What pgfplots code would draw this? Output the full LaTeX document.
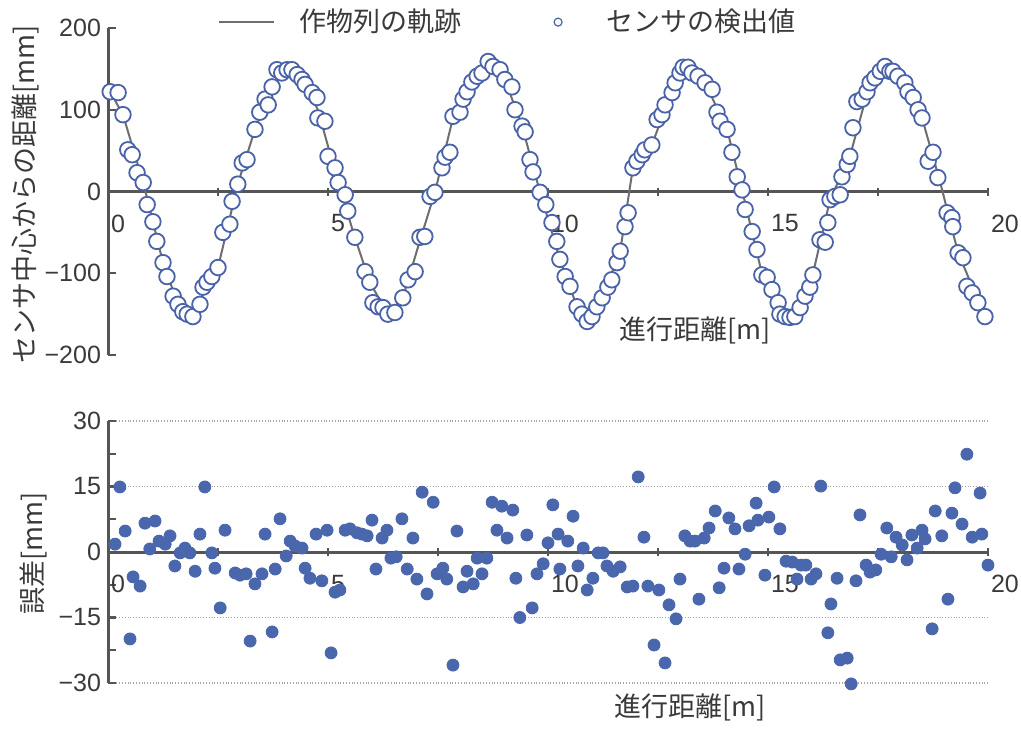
\documentclass[border=0pt]{standalone}
\usepackage{pgfplots}
\pgfplotsset{compat=1.18}
\usepackage{pgfplotstable}
\usepackage{fontspec}
\setmainfont{Liberation Sans}
\newfontfamily\jp{Noto Sans CJK JP}
\definecolor{axgray}{HTML}{555555}
\definecolor{trajgray}{HTML}{6E6E6E}
\definecolor{mblue}{HTML}{4A62A8}
\definecolor{dblue}{HTML}{4A66AC}
\definecolor{txt}{HTML}{3A3A3A}

\pgfplotstableread{
x y
0.05 122
0.34 94
0.80 11
1.25 -87
1.59 -138
1.93 -153
2.16 -125
2.50 -93
2.95 9
3.34 76
3.73 128
4.07 150
4.48 131
4.77 100
5.23 11
5.61 -56
5.95 -111
6.36 -150
6.70 -130
7.09 -60
7.43 -1
7.84 90
8.27 134
8.64 155
9.02 137
9.41 80
9.82 -1
10.27 -83
10.66 -141
10.89 -157
11.23 -130
11.64 -73
11.93 29
12.36 57
12.89 133
13.11 152
13.57 133
14.07 76
14.41 2
14.86 -100
15.27 -148
15.50 -154
15.95 -117
16.41 -10
16.86 43
17.32 133
17.66 152
18.11 133
18.50 90
18.91 12
19.32 -75
19.93 -153
}\trajtab

\pgfplotstableread{
x y
0.05 122
0.23 121
0.34 94
0.45 51
0.55 45
0.66 23
0.80 11
0.89 -16
1.02 -37
1.11 -61
1.25 -87
1.34 -104
1.48 -128
1.59 -138
1.70 -147
1.80 -150
1.93 -153
2.09 -138
2.16 -117
2.25 -111
2.36 -104
2.50 -93
2.61 -50
2.77 -40
2.82 -12
2.95 9
3.05 35
3.16 39
3.34 76
3.45 97
3.57 113
3.64 106
3.73 128
3.84 149
3.95 145
4.07 149
4.18 149
4.30 143
4.41 137
4.48 131
4.64 121
4.75 115
4.77 90
4.93 86
5.00 43
5.16 29
5.23 11
5.39 -4
5.45 -24
5.61 -56
5.84 -98
5.95 -111
6.02 -136
6.14 -141
6.25 -142
6.36 -150
6.52 -148
6.70 -130
6.82 -108
6.98 -98
7.09 -56
7.20 -55
7.32 -6
7.43 -1
7.59 29
7.66 42
7.77 48
7.84 92
8.00 97
8.07 113
8.16 122
8.27 134
8.39 141
8.50 145
8.64 159
8.75 153
8.91 149
9.02 137
9.18 128
9.25 100
9.41 80
9.48 73
9.59 39
9.66 24
9.82 -1
9.95 -16
10.09 -38
10.20 -61
10.27 -83
10.39 -104
10.50 -116
10.66 -141
10.77 -150
10.89 -159
11.00 -153
11.11 -141
11.23 -130
11.36 -117
11.45 -108
11.57 -87
11.64 -73
11.75 -43
11.82 -26
11.93 29
12.02 37
12.14 45
12.20 51
12.36 57
12.48 88
12.59 94
12.66 106
12.82 121
12.89 133
13.00 145
13.07 152
13.18 152
13.27 145
13.41 141
13.57 133
13.73 125
13.84 97
13.91 86
14.07 76
14.18 48
14.30 18
14.41 2
14.48 -22
14.64 -49
14.75 -71
14.86 -102
14.98 -105
15.09 -120
15.23 -136
15.27 -150
15.39 -153
15.50 -154
15.61 -153
15.73 -142
15.84 -128
15.95 -117
16.02 -102
16.18 -59
16.30 -62
16.36 -38
16.41 -10
16.52 -6
16.64 -4
16.68 18
16.80 33
16.86 43
16.93 78
17.02 110
17.14 113
17.25 122
17.32 133
17.43 139
17.55 147
17.66 153
17.77 147
17.84 147
17.95 141
18.11 133
18.18 122
18.30 115
18.41 100
18.50 90
18.64 37
18.75 48
18.86 17
19.07 -26
19.18 -32
19.20 -43
19.32 -75
19.43 -81
19.52 -116
19.64 -124
19.77 -136
19.93 -153
}\senstab

\pgfplotstableread{
x e
0.16 1.8
0.27 14.9
0.39 4.8
0.50 -19.9
0.57 -5.7
0.73 -7.8
0.84 6.6
0.95 0.7
1.07 7.1
1.16 2.5
1.30 1.8
1.41 3.7
1.52 -3.2
1.64 -0.2
1.75 0.9
1.86 -0.2
1.98 -4.4
2.09 4.1
2.20 14.9
2.36 -0.2
2.43 -3.7
2.55 -12.8
2.66 5.0
2.89 -4.8
3.00 -5.3
3.14 -5.0
3.23 -20.4
3.34 -7.3
3.50 -5.0
3.57 4.1
3.73 -18.3
3.80 -3.9
3.91 7.6
4.05 -0.9
4.14 2.5
4.25 1.4
4.41 0.9
4.48 -3.7
4.59 -6.0
4.73 4.1
4.86 -6.6
4.98 5.0
5.07 -23.1
5.16 -9.2
5.27 -8.7
5.39 5.0
5.50 5.3
5.66 4.4
5.77 4.1
5.89 3.7
6.00 7.3
6.09 -3.9
6.23 3.2
6.34 5.0
6.43 -1.4
6.55 -1.1
6.68 7.6
6.80 -3.9
6.93 3.2
7.02 -6.2
7.14 13.7
7.25 -9.6
7.39 11.4
7.48 -5.0
7.61 -3.7
7.70 -6.2
7.84 -25.9
7.93 4.8
8.07 -8.0
8.16 -4.4
8.30 -7.3
8.39 -1.4
8.50 -5.0
8.61 -1.4
8.73 11.4
8.84 5.0
8.95 10.5
9.07 3.2
9.20 9.6
9.27 -6.0
9.36 -15.0
9.52 3.9
9.64 -12.8
9.75 -5.0
9.89 -2.7
10.00 2.1
10.11 10.8
10.23 4.1
10.27 -3.9
10.45 2.5
10.57 8.2
10.68 -3.2
10.80 0.9
10.89 -8.7
11.02 -6.0
11.14 -0.2
11.25 -0.2
11.34 -3.2
11.48 -4.4
11.64 -3.4
11.80 -8.0
11.93 -7.8
12.05 17.2
12.18 3.4
12.27 -7.8
12.41 -21.3
12.52 -8.7
12.66 -25.4
12.75 -12.1
12.91 -15.3
13.00 -6.2
13.11 3.7
13.23 2.5
13.34 2.5
13.43 -10.8
13.55 3.2
13.66 5.5
13.80 9.4
13.89 -8.2
14.00 -3.7
14.11 7.8
14.25 5.3
14.34 -3.9
14.48 -0.5
14.57 6.0
14.73 11.2
14.77 7.3
14.93 -5.3
15.02 8.0
15.14 14.9
15.27 5.3
15.41 -2.1
15.55 -2.3
15.66 -6.2
15.75 -3.0
15.86 -3.0
15.98 -6.2
16.09 -5.0
16.20 15.1
16.36 -18.5
16.43 -11.9
16.57 -6.0
16.64 -24.7
16.80 -24.3
16.89 -30.2
17.00 -6.6
17.09 8.5
17.23 -3.0
17.32 -4.6
17.45 -4.1
17.57 -0.5
17.70 5.5
17.80 -1.1
17.91 3.4
18.05 1.6
18.16 -1.8
18.27 3.9
18.39 0.9
18.50 5.0
18.57 3.0
18.73 -17.6
18.80 9.4
18.95 3.7
19.09 -10.8
19.18 8.9
19.25 14.7
19.41 6.4
19.52 22.4
19.64 3.4
19.82 13.5
19.86 4.1
20.00 -3.0
}\errtab

\tikzset{jplabel/.style={font=\jp\fontsize{13.5}{16}\selectfont, text=txt, anchor=center}}
\pgfplotsset{
  common/.style={
    scale only axis, width=440pt,
    xmin=0, xmax=20,
    axis x line=middle, axis y line=left,
    axis line style={axgray, line width=1.5pt, -},
    tick style={axgray, line width=1.2pt},
    xtick align=center, ytick align=inside,
    major tick length=4pt, minor tick length=4pt,
    xtick={0,2.5,...,20},
    xticklabels={0,,5,,10,,15,,20},
    hide obscured x ticks=false, hide obscured y ticks=false,
    /pgf/number format/assume math mode=true,
    ticklabel style={font=\fontsize{12.5}{14}\selectfont, text=txt},
    xticklabel style={anchor=north west, xshift=-2pt, yshift=-6pt},
    clip=false,
  },
}

\begin{document}
\begin{tikzpicture}
\useasboundingbox (0,0) rectangle (510.5pt,-364pt);
\begin{axis}[common,
  at={(54pt,-177.5pt)}, anchor=south west, height=163.5pt,
  ymin=-200, ymax=200,
  ytick={-200,-100,0,100,200},
  yticklabels={−200,−100,0,100,200},
  xlabel={進行距離[m]},
  ylabel={センサ中心からの距離[mm]},
  every axis x label/.style={at={(axis description cs:0.667,0.076)}, jplabel},
  every axis y label/.style={at={(axis description cs:-0.094,0.49)}, jplabel, rotate=90},
  legend columns=2,
  legend cell align=left,
  legend style={draw=none, fill=none, at={(axis description cs:0.455,1.018)}, anchor=center,
    font=\jp\fontsize{13.5}{16}\selectfont, text=txt,
    /tikz/every even column/.append style={column sep=44pt}},
]
\addplot[trajgray, line width=1pt,
  legend image code/.code={\draw[trajgray,line width=1.2pt] (0pt,0pt)--(27.5pt,0pt); \path (38pt,0pt);}]
  table[x=x,y=y] {\trajtab};
\addlegendentry{作物列の軌跡}
\addplot[only marks, mark=*, mark size=3.9pt,
  mark options={draw=mblue, fill=white, line width=0.9pt},
  legend image code/.code={\draw[mblue,line width=0.6pt] (0pt,0pt) circle (2pt); \path (22pt,0pt);}]
  table[x=x,y=y] {\senstab};
\addlegendentry{センサの検出値}
\end{axis}

\begin{axis}[common,
  at={(54pt,-341.5pt)}, anchor=south west, height=131pt,
  ymin=-30, ymax=30,
  ytick={-30,-15,0,15,30},
  yticklabels={−30,−15,0,15,30},
  minor ytick={-22.5,-7.5,7.5,22.5},
  ymajorgrids, grid style={densely dotted, gray!70, line width=0.6pt},
  xlabel={進行距離[m]},
  ylabel={誤差[mm]},
  every axis x label/.style={at={(axis description cs:0.661,-0.095)}, jplabel},
  every axis y label/.style={at={(axis description cs:-0.085,0.496)}, jplabel, rotate=90},
]
\addplot[only marks, mark=*, mark size=3pt, mark options={draw=dblue, fill=dblue}]
  table[x=x,y=e] {\errtab};
\end{axis}
\end{tikzpicture}
\end{document}
